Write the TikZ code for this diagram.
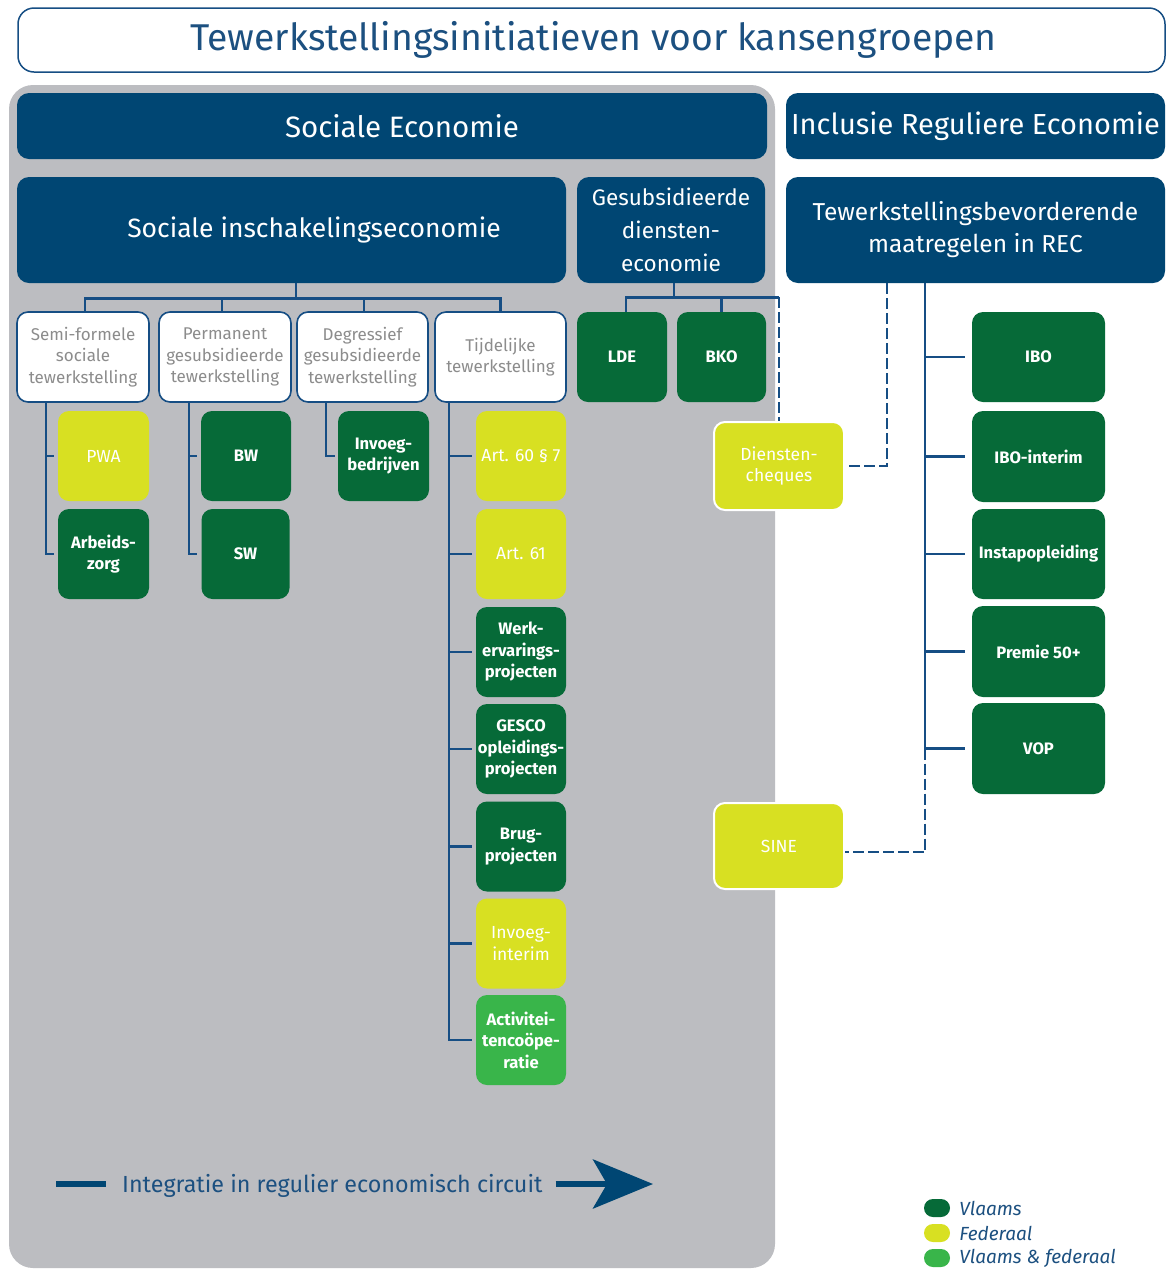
\documentclass[tikz,border=0pt]{standalone}
\usepackage{fontspec}
\setmainfont{Fira Sans}
\usetikzlibrary{arrows.meta,calc}
\definecolor{navy}{RGB}{0,70,115}
\definecolor{lnblue}{RGB}{22,78,132}
\definecolor{dgreen}{RGB}{6,106,56}
\definecolor{ylw}{RGB}{216,224,34}
\definecolor{mgreen}{RGB}{57,181,74}
\definecolor{panelgray}{RGB}{188,189,193}
\definecolor{wtext}{RGB}{140,140,140}
\definecolor{ttext}{RGB}{28,80,128}
\tikzset{
  hdr/.style={fill=navy, rounded corners=12pt, text=white, inner sep=0pt, align=center},
  wbox/.style={draw=lnblue, line width=1.6pt, fill=white, rounded corners=11pt, text=wtext, align=center, inner sep=0pt, minimum height=90pt, font=\fontsize{17}{21.5}\selectfont},
  cbox/.style={rounded corners=11pt, text=white, align=center, inner sep=0pt, minimum height=90pt, font=\fontsize{16.6}{21.5}\selectfont\bfseries},
  gbox/.style={cbox, fill=dgreen},
  mbox/.style={cbox, fill=mgreen},
  ybox/.style={cbox, fill=ylw, font=\fontsize{17.5}{21.5}\selectfont},
  conn/.style={draw=lnblue, line width=2.6pt},
  dconn/.style={conn, dash pattern=on 11pt off 4pt},
  legdot/.style={rounded corners=9pt, minimum width=26pt, minimum height=18pt, inner sep=0pt},
  legtxt/.style={anchor=west, text=ttext, inner sep=0pt, font=\fontsize{19}{20}\selectfont\itshape}
}
\begin{document}
\begin{tikzpicture}[x=1pt,y=-1pt]
\useasboundingbox (0,0) rectangle (1171,1270);
\fill[white] (0,0) rectangle (1171,1270);

% title
\node[draw=lnblue, line width=1.5pt, rounded corners=16pt, fill=white, minimum width=1147pt, minimum height=64pt, text=ttext, font=\fontsize{37.3}{40}\selectfont, inner sep=0pt] (title) at (591.5,40) {\hspace*{4pt}Tewerkstellingsinitiatieven voor kansengroepen};

% gray panel
\node[fill=panelgray, rounded corners=24pt, minimum width=766pt, minimum height=1183pt, inner sep=0pt] (panel) at (392,676.5) {};

% headers
\node[hdr, minimum width=750pt, minimum height=66pt, font=\fontsize{29.5}{32}\selectfont] (SE) at (392,126) {\hspace*{20pt}Sociale Economie};
\node[hdr, minimum width=379pt, minimum height=66pt, font=\fontsize{29}{32}\selectfont] (IRE) at (975.5,126) {Inclusie Reguliere Economie};
\node[hdr, minimum width=549pt, minimum height=106pt, font=\fontsize{26.5}{30}\selectfont] (SIE) at (291.5,230) {\hspace*{45pt}Sociale inschakelingseconomie};
\node[hdr, minimum width=188pt, minimum height=106pt, font=\fontsize{22.5}{33}\selectfont] (GDE) at (671,230) {Gesubsidieerde\\diensten-\\economie};
\node[hdr, minimum width=379pt, minimum height=106pt, font=\fontsize{24.5}{32}\selectfont] (TBM) at (975.5,230) {Tewerkstellingsbevorderende\\maatregelen in REC};

% white category boxes
\node[wbox, minimum width=132pt] (semi) at (83,357) {Semi-formele\\sociale\\tewerkstelling};
\node[wbox, minimum width=132pt] (perm) at (225,357) {Permanent\\gesubsidieerde\\tewerkstelling};
\node[wbox, minimum width=131pt] (degr) at (362.5,357) {Degressief\\gesubsidieerde\\tewerkstelling};
\node[wbox, minimum width=131pt] (tijd) at (500.5,357) {Tijdelijke\\tewerkstelling};

% children
\node[ybox, minimum width=91pt] (pwa) at (103.5,456) {PWA};
\node[gbox, minimum width=91pt] (arb) at (103.5,554) {Arbeids-\\zorg};
\node[gbox, minimum width=90pt] (bw) at (246,456) {BW};
\node[gbox, minimum width=88pt] (sw) at (245.5,554) {SW};
\node[gbox, minimum width=91pt] (invb) at (383.5,456) {Invoeg-\\bedrijven};
\node[ybox, minimum width=90pt] (art607) at (521,456) {Art. 60 § 7};
\node[ybox, minimum width=90pt] (art61) at (521,554) {Art. 61};
\node[gbox, minimum width=90pt] (werk) at (521,652) {Werk-\\ervarings-\\projecten};
\node[gbox, minimum width=90pt] (gesco) at (521,749) {GESCO\\opleidings-\\projecten};
\node[gbox, minimum width=90pt] (brug) at (521,846.5) {Brug-\\projecten};
\node[ybox, minimum width=90pt] (invi) at (521,943.5) {Invoeg-\\interim};
\node[mbox, minimum width=90pt] (act) at (521,1040) {Activitei-\\tencoöpe-\\ratie};

\node[gbox, minimum width=90pt] (lde) at (622,357) {LDE};
\node[gbox, minimum width=89pt] (bko) at (721.5,357) {BKO};
\node[ybox, minimum width=130pt, minimum height=88pt, draw=white, line width=2pt] (dc) at (779,466) {Diensten-\\cheques};
\node[ybox, minimum width=130pt, minimum height=86pt, draw=white, line width=2pt] (sine) at (779,846) {SINE};

\node[gbox, minimum width=133pt] (ibo) at (1038.5,357) {IBO};
\node[gbox, minimum width=133pt, minimum height=91pt] (iboi) at (1038.5,456.5) {IBO-interim};
\node[gbox, minimum width=133pt] (insta) at (1038.5,554) {Instapopleiding};
\node[gbox, minimum width=133pt, minimum height=91pt] (prem) at (1038.5,651.5) {Premie 50+};
\node[gbox, minimum width=133pt, minimum height=91pt] (vop) at (1038.5,748.5) {VOP};

% connectors: Sociale inschakelingseconomie
\draw[conn] ([xshift=4.5pt]SIE.south) -- ++(0,15) coordinate (sj);
\draw[conn] ([xshift=2pt]semi.north) -- ([xshift=2pt]semi.north |- sj) -- (tijd.north |- sj) -- (tijd.north);
\draw[conn] ([xshift=-3pt]perm.north) -- ([xshift=-3pt]perm.north |- sj);
\draw[conn] ([xshift=1.5pt]degr.north) -- ([xshift=1.5pt]degr.north |- sj);

\draw[conn] ([xshift=-37pt]semi.south) |- ([xshift=-4pt]arb.west);
\draw[conn] ([xshift=-37pt]semi.south |- pwa.west) -- ([xshift=-4pt]pwa.west);
\draw[conn] ([xshift=-36pt]perm.south) |- ([xshift=-4pt]sw.west);
\draw[conn] ([xshift=-36pt]perm.south |- bw.west) -- ([xshift=-4pt]bw.west);
\draw[conn] ([xshift=-36.5pt]degr.south) |- ([xshift=-3pt]invb.west);
\draw[conn] ([xshift=-51.5pt]tijd.south) |- ([xshift=-4pt]act.west);
\foreach \n in {art607,art61,werk,gesco,brug,invi}
  \draw[conn] ([xshift=-51.5pt]tijd.south |- \n.west) -- ([xshift=-4pt]\n.west);

% connectors: Gesubsidieerde dienseneconomie
\draw[conn] ([xshift=3pt]GDE.south) -- ++(0,14) coordinate (gj);
\draw[conn] ([xshift=4pt]lde.north) -- ([xshift=4pt]lde.north |- gj) -- (gj -| dc.north);
\draw[conn] (bko.north) -- (bko.north |- gj);
\draw[dconn] (gj -| dc.north) -- (dc.north);

% connectors: Tewerkstellingsbevorderende maatregelen
\draw[dconn] ([xshift=-88.5pt]TBM.south) |- (dc.east);
\coordinate (tb) at ([xshift=-50.5pt]TBM.south);
\draw[conn] (tb) -- (tb |- vop.west);
\draw[dconn] (tb |- vop.west) |- ([yshift=-6pt]sine.east);
\foreach \n in {ibo,iboi,insta,prem,vop}
  \draw[conn] (tb |- \n.west) -- ([xshift=-7pt]\n.west);

% integration arrow
\node[anchor=base west, text=ttext, font=\fontsize{23.3}{26}\selectfont, inner sep=0pt] (integ) at (122,1192) {Integratie in regulier economisch circuit};
\coordinate (dl) at (56,1184);
\coordinate (aend) at (653,1184);
\draw[navy, line width=6pt] (dl) -- ([xshift=-16pt]integ.west |- dl);
\draw[navy, line width=6pt, -{Stealth[length=60pt,width=49pt,inset=14pt]}] ([xshift=13pt]integ.east |- aend) -- (aend);

% legend
\node[legdot, fill=dgreen] (lg1) at (937,1208) {};
\node[legdot, fill=ylw] (lg2) at (937,1233) {};
\node[legdot, fill=mgreen] (lg3) at (937,1258) {};
\node[legtxt] (lt1) at ([xshift=9pt]lg1.east) {Vlaams};
\node[legtxt] (lt2) at ([xshift=9pt]lg2.east) {Federaal};
\node[legtxt] (lt3) at ([xshift=9pt]lg3.east) {Vlaams \& federaal};
\end{tikzpicture}
\end{document}
